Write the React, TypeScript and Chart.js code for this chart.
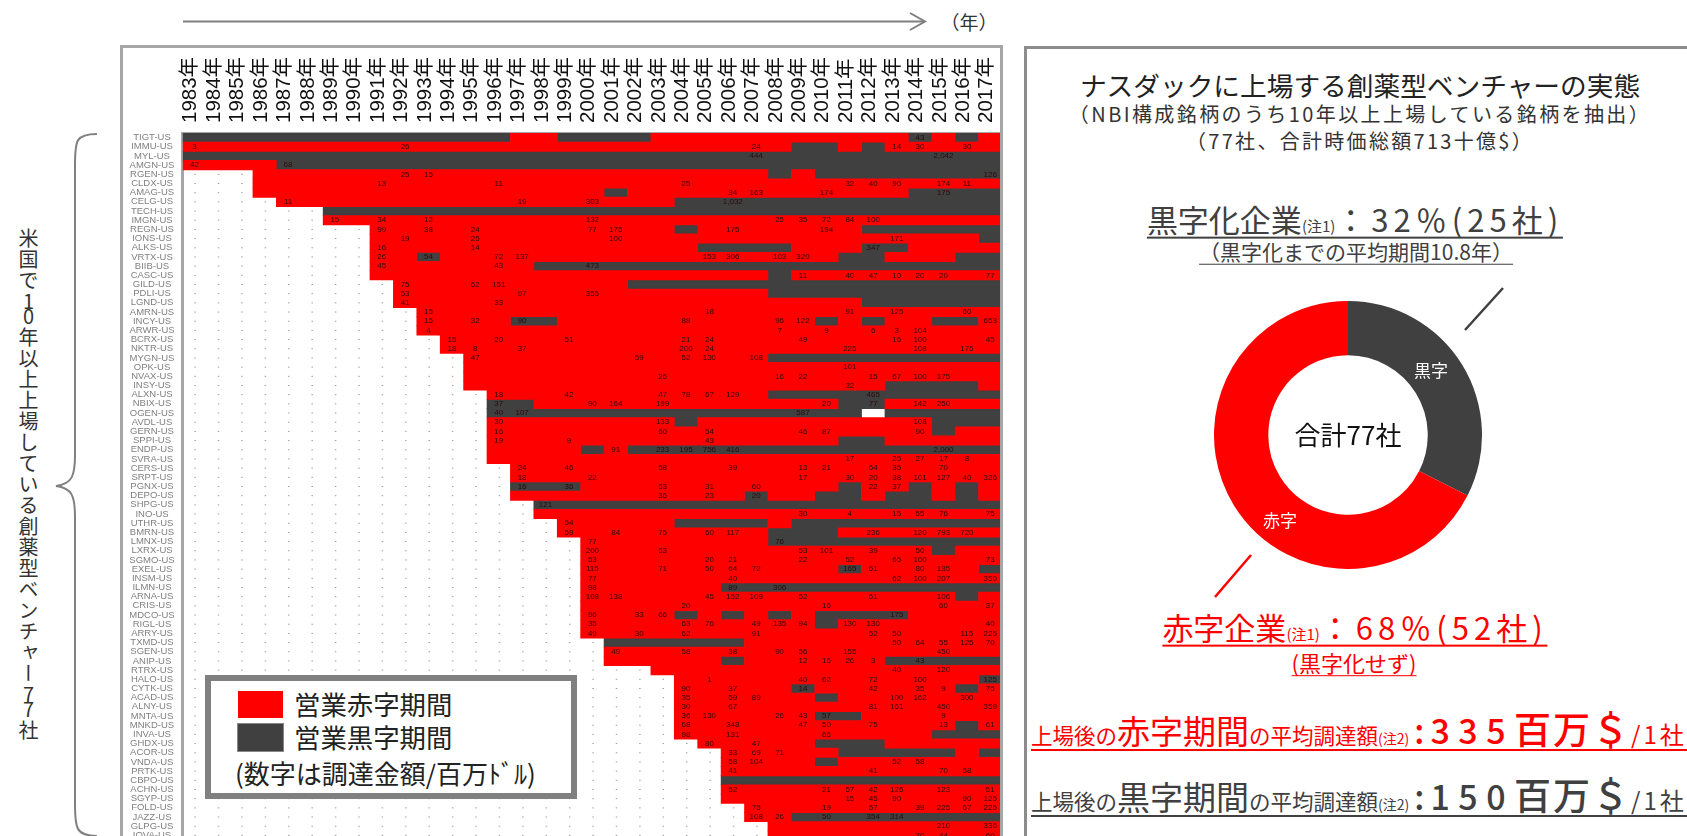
import React, { useEffect, useRef } from "react";
import { Chart, registerables } from "chart.js";

Chart.register(...registerables);

const firstYear = 1983;
const lastYear = 2017;
const years: number[] = [];
for (let y = firstYear; y <= lastYear; y++) years.push(y);

const tickers = [
  "TIGT-US","IMMU-US","MYL-US","AMGN-US","RGEN-US","CLDX-US","AMAG-US","CELG-US","TECH-US","IMGN-US","REGN-US",
  "IONS-US","ALKS-US","VRTX-US","BIIB-US","CASC-US","GILD-US","PDLI-US","LGND-US","AMRN-US","INCY-US","ARWR-US",
  "BCRX-US","NKTR-US","MYGN-US","OPK-US","NVAX-US","INSY-US","ALXN-US","NBIX-US","OGEN-US","AVDL-US","GERN-US",
  "SPPI-US","ENDP-US","SVRA-US","CERS-US","SRPT-US","PGNX-US","DEPO-US","SHPG-US","INO-US","UTHR-US","BMRN-US",
  "LMNX-US","LXRX-US","SGMO-US","EXEL-US","INSM-US","ILMN-US","ARNA-US","CRIS-US","MDCO-US","RIGL-US","ARRY-US",
  "TXMD-US","SGEN-US","ANIP-US","RTRX-US","HALO-US","CYTK-US","ACAD-US","ALNY-US","MNTA-US","MNKD-US","INVA-US",
  "GHDX-US","ACOR-US","VNDA-US","PRTK-US","CBPO-US","ACHN-US","SGYP-US","FOLD-US","JAZZ-US","GLPG-US","IOVA-US",
];

const listedFrom = [
  1983,1983,1983,1983,1986,1986,1986,1987,1989,1989,1991,
  1991,1991,1991,1991,1991,1992,1992,1992,1993,1993,1993,
  1994,1994,1995,1995,1995,1995,1996,1996,1996,1996,1996,
  1996,1996,1996,1997,1997,1997,1997,1998,1998,1999,1999,
  2000,2000,2000,2000,2000,2000,2000,2000,2000,2000,2000,
  2001,2001,2001,2003,2004,2004,2004,2004,2004,2004,2004,
  2005,2006,2006,2006,2006,2006,2006,2007,2007,2008,2008,
];

// Years in operating profit, per ticker, as [from, to]
const profitRanges: number[][][] = [
  [[1983,1996],[1999,2002],[2014,2014],[2016,2016]],[[2009,2010],[2012,2012]],[[1983,2017]],[[1987,2017]],
  [[2008,2008],[2010,2017]],[],[[2001,2001],[2014,2017]],[[2004,2017]],[[1989,2017]],[],
  [[2004,2004],[2012,2017]],[[2017,2017]],[[2005,2008],[2012,2013]],[[1993,1993],[2011,2012],[2016,2017]],[[1998,2017]],
  [[2008,2008]],[[2002,2017]],[[2008,2017]],[[2012,2017]],[],
  [[1997,1998],[2010,2010],[2012,2012],[2015,2016]],[],[],[],[[2008,2017]],
  [],[],[[2013,2016]],[[2008,2017]],[[1996,1997],[2011,2012]],
  [[1996,2011],[2013,2017]],[[2004,2004],[2015,2017]],[[2015,2015]],[[2011,2012]],[[2000,2000],[2002,2017]],
  [],[],[],[[1997,1999],[2011,2011],[2014,2014],[2016,2016]],[[2007,2007],[2010,2011],[2013,2014],[2016,2016]],
  [[1998,2017]],[],[[2004,2007],[2009,2017]],[[2008,2010]],[[2008,2017]],
  [[2015,2015]],[],[[2011,2011],[2017,2017]],[],[[2006,2017]],
  [[2016,2016]],[],[[2004,2004],[2006,2006],[2008,2008],[2010,2013]],[[2010,2010]],[],
  [[2001,2006]],[],[[2006,2006],[2013,2017]],[],[[2017,2017]],
  [[2009,2009],[2016,2016]],[[2010,2010]],[],[[2010,2011]],[[2016,2016]],
  [[2015,2017]],[[2010,2012]],[[2011,2015],[2017,2017]],[[2010,2010]],[],
  [[2006,2017]],[],[],[],[[2009,2017]],[],[],
];

// Years with no colour at all, [tickerIndex, year]
const blankCells = [[30, 2012]];

// Funding amounts (million USD), per ticker, as [year, amount]
const funding: (number | string)[][][] = [
  [[2014,43]],
  [[1983,3],[1992,26],[2007,24],[2013,14],[2014,30],[2016,30]],
  [[2007,444],[2015,"2,042"]],
  [[1983,42],[1987,68]],
  [[1992,25],[1993,15],[2017,126]],
  [[1991,13],[1996,11],[2004,25],[2011,32],[2012,40],[2013,90],[2015,174],[2016,11]],
  [[2006,34],[2007,163],[2010,174],[2015,175]],
  [[1987,11],[1997,19],[2000,303],[2006,"1,032"]],
  [],
  [[1989,15],[1991,34],[1993,12],[2000,132],[2008,25],[2009,35],[2010,72],[2011,84],[2012,100]],
  [[1991,99],[1993,38],[1995,24],[2000,77],[2001,175],[2006,175],[2010,194]],
  [[1992,19],[1995,25],[2001,100],[2013,171]],
  [[1991,16],[1995,14],[2012,347]],
  [[1991,26],[1993,54],[1996,72],[1997,137],[2005,153],[2006,306],[2008,103],[2009,320]],
  [[1991,45],[1996,43],[2000,473]],
  [[2009,11],[2011,40],[2012,47],[2013,10],[2014,20],[2015,20],[2017,77]],
  [[1992,75],[1995,62],[1996,151]],
  [[1992,53],[1997,97],[2000,355]],
  [[1992,41],[1996,33]],
  [[1993,15],[2005,18],[2011,91],[2013,125],[2016,60]],
  [[1993,15],[1995,32],[1997,90],[2004,88],[2008,96],[2009,122],[2017,653]],
  [[1993,4],[2008,7],[2010,9],[2012,6],[2013,3],[2014,104]],
  [[1994,15],[1996,20],[1999,51],[2004,21],[2005,24],[2009,49],[2013,16],[2014,100],[2017,45]],
  [[1994,18],[1995,8],[1997,37],[2004,200],[2005,24],[2011,225],[2014,108],[2016,176]],
  [[1995,47],[2002,59],[2004,52],[2005,130],[2007,108]],
  [[2011,101]],
  [[2003,26],[2008,16],[2009,22],[2012,15],[2013,67],[2014,100],[2015,175]],
  [[2011,32]],
  [[1996,18],[1999,42],[2003,47],[2004,78],[2005,67],[2006,129],[2012,465]],
  [[1996,37],[2000,90],[2001,164],[2003,199],[2010,20],[2012,77],[2014,142],[2015,250]],
  [[1996,40],[1997,107],[2009,587]],
  [[1996,30],[2003,133],[2014,108]],
  [[1996,16],[2003,60],[2005,54],[2009,46],[2010,87],[2014,90]],
  [[1996,19],[1999,9],[2005,43]],
  [[2001,91],[2003,233],[2004,195],[2005,756],[2006,416],[2015,"2,000"]],
  [[2011,17],[2013,25],[2014,27],[2015,17],[2016,8]],
  [[1997,24],[1999,46],[2003,58],[2006,39],[2009,13],[2010,21],[2012,64],[2013,35],[2015,70]],
  [[1997,18],[2000,22],[2009,17],[2011,30],[2012,20],[2013,38],[2014,101],[2015,127],[2016,40],[2017,326]],
  [[1997,16],[1999,36],[2003,53],[2005,31],[2007,60],[2012,22],[2013,37]],
  [[2003,36],[2005,23],[2007,20]],
  [[1998,121]],
  [[2009,30],[2011,4],[2013,15],[2014,55],[2015,76],[2017,75]],
  [[1999,54]],
  [[1999,59],[2001,84],[2003,75],[2005,60],[2006,117],[2012,236],[2014,120],[2015,793],[2016,720]],
  [[2000,77],[2008,76]],
  [[2000,200],[2003,53],[2009,53],[2010,101],[2012,39],[2014,50]],
  [[2000,53],[2005,20],[2006,21],[2009,22],[2011,52],[2013,65],[2014,100],[2017,73]],
  [[2000,115],[2003,71],[2005,50],[2006,64],[2007,72],[2011,165],[2012,61],[2014,80],[2015,135]],
  [[2000,77],[2006,40],[2013,62],[2014,100],[2015,207],[2017,350]],
  [[2000,98],[2006,89],[2008,306]],
  [[2000,108],[2001,138],[2005,45],[2006,152],[2007,109],[2009,52],[2012,61],[2015,106]],
  [[2004,20],[2010,16],[2015,60],[2017,37]],
  [[2000,96],[2002,33],[2003,66],[2013,175]],
  [[2000,35],[2004,63],[2005,76],[2007,49],[2008,135],[2009,94],[2011,130],[2012,130],[2017,40]],
  [[2000,49],[2002,30],[2004,62],[2007,91],[2012,52],[2013,50],[2016,115],[2017,225]],
  [[2013,50],[2014,64],[2015,55],[2016,125],[2017,70]],
  [[2001,49],[2004,58],[2006,38],[2008,90],[2009,56],[2011,155],[2015,450]],
  [[2009,12],[2010,16],[2011,26],[2012,3],[2014,43]],
  [[2013,40],[2015,120]],
  [[2005,1],[2009,40],[2010,62],[2012,72],[2014,100],[2017,125]],
  [[2004,90],[2006,37],[2009,14],[2012,42],[2014,35],[2015,9],[2017,75]],
  [[2004,35],[2006,59],[2007,89],[2013,100],[2014,162],[2016,300]],
  [[2004,30],[2006,67],[2012,81],[2013,161],[2015,450],[2017,359]],
  [[2004,36],[2005,130],[2008,26],[2009,43],[2010,57],[2015,9]],
  [[2004,68],[2006,348],[2009,47],[2010,50],[2012,75],[2015,13],[2017,61]],
  [[2004,98],[2006,131],[2010,66]],
  [[2005,80],[2007,47]],
  [[2006,33],[2007,69],[2008,71]],
  [[2006,58],[2007,104],[2013,52],[2014,58]],
  [[2006,41],[2012,41],[2015,70],[2016,58]],
  [],
  [[2006,52],[2010,21],[2011,57],[2012,42],[2013,126],[2015,123],[2017,51]],
  [[2011,15],[2012,45],[2013,90],[2016,90],[2017,125]],
  [[2007,75],[2010,19],[2012,57],[2014,39],[2015,225],[2016,67],[2017,225]],
  [[2007,108],[2008,26],[2010,50],[2012,354],[2013,314]],
  [[2015,210],[2017,336]],
  [[2014,30],[2015,44],[2017,60]],
];

const donutLabels = ["黒字", "赤字"];
const donutValues = [25, 52];

const RED = "#FF0000";
const DARK = "#404040";
const FRAME = "#A6A6A6";
const JP = "'Noto Sans CJK JP','Noto Sans',sans-serif";
const LATIN = "'Liberation Sans','Noto Sans CJK JP',sans-serif";

function cellKind(row: number, year: number): string {
  if (year < listedFrom[row]) return "none";
  if (blankCells.some(([r, y]) => r === row && y === year)) return "blank";
  return profitRanges[row].some(([a, b]) => year >= a && year <= b) ? "profit" : "loss";
}

function runsOf(kind: string) {
  const out: { x: number[]; y: string }[] = [];
  tickers.forEach((t, row) => {
    let start: number | null = null;
    for (let y = firstYear; y <= lastYear + 1; y++) {
      const hit = y <= lastYear && cellKind(row, y) === kind;
      if (hit && start === null) start = y;
      if (!hit && start !== null) {
        out.push({ x: [start - 0.5, y - 0.5], y: t });
        start = null;
      }
    }
  });
  return out;
}

const cellLabels = {
  id: "cellLabels",
  afterDatasetsDraw(chart: any) {
    const { ctx, scales } = chart;
    ctx.save();
    ctx.font = "8px 'Liberation Sans'";
    ctx.fillStyle = "#2a0a0a";
    ctx.textAlign = "center";
    ctx.textBaseline = "middle";
    funding.forEach((items, row) => {
      const py = scales.y.getPixelForValue(row);
      items.forEach(([year, amount]) => {
        ctx.fillText(String(amount), scales.x.getPixelForValue(year as number), py);
      });
    });
    ctx.restore();
  },
};

const abs = (left: number, top: number, extra: React.CSSProperties = {}): React.CSSProperties => ({
  position: "absolute",
  left,
  top,
  whiteSpace: "nowrap",
  fontFamily: JP,
  ...extra,
});

const centered = (cx: number, cy: number, extra: React.CSSProperties = {}): React.CSSProperties => ({
  ...abs(cx, cy, extra),
  transform: "translate(-50%,-50%)",
});

const zeroPadding = (s: any) => {
  s.paddingLeft = 0;
  s.paddingRight = 0;
  s.paddingTop = 0;
  s.paddingBottom = 0;
};

export default function App() {
  const matrixRef = useRef<HTMLCanvasElement>(null);
  const donutRef = useRef<HTMLCanvasElement>(null);

  useEffect(() => {
    document.body.style.margin = "0";
    const dots: { x: number; y: string }[] = [];
    tickers.forEach((t, row) => {
      years.forEach((y) => {
        if (cellKind(row, y) === "none") dots.push({ x: y, y: t });
      });
    });
    const matrix = new Chart(matrixRef.current as HTMLCanvasElement, {
      type: "bar",
      data: {
        labels: tickers,
        datasets: [
          { label: "営業赤字期間", data: runsOf("loss") as any, backgroundColor: RED, barThickness: 9.4, grouped: false },
          { label: "営業黒字期間", data: runsOf("profit") as any, backgroundColor: DARK, barThickness: 9.4, grouped: false },
          {
            type: "scatter",
            label: "未上場",
            data: dots as any,
            pointStyle: "dash",
            pointRadius: 1.5,
            borderColor: "#9E9E9E",
            borderWidth: 1,
            backgroundColor: "#9E9E9E",
          } as any,
        ],
      },
      options: {
        indexAxis: "y",
        responsive: false,
        animation: false,
        events: [],
        layout: { padding: 0, autoPadding: false },
        plugins: { legend: { display: false }, tooltip: { enabled: false } },
        scales: {
          x: {
            type: "linear",
            position: "top",
            min: firstYear - 0.5,
            max: lastYear + 0.5,
            afterBuildTicks: (s: any) => {
              s.ticks = years.map((v) => ({ value: v }));
            },
            afterFit: (s: any) => {
              s.height = 86;
              zeroPadding(s);
            },
            grid: { display: false },
            border: { display: true, color: FRAME, width: 3 },
            ticks: {
              autoSkip: false,
              minRotation: 90,
              maxRotation: 90,
              padding: 2,
              labelOffset: 21,
              color: "#111",
              font: { family: LATIN, size: 20.5 },
              callback: (v: any) => `${v}年`,
            },
          },
          y: {
            type: "category",
            afterFit: (s: any) => {
              s.width = 61.7;
              zeroPadding(s);
            },
            grid: { display: false },
            border: { display: true, color: FRAME, width: 3 },
            ticks: {
              autoSkip: false,
              padding: 0,
              crossAlign: "center",
              color: "#808080",
              font: { family: LATIN, size: 9.5 },
            },
          },
        },
      } as any,
      plugins: [cellLabels],
    });

    const donut = new Chart(donutRef.current as HTMLCanvasElement, {
      type: "doughnut",
      data: {
        labels: donutLabels,
        datasets: [{ data: donutValues, backgroundColor: [DARK, RED], borderWidth: 0 }],
      },
      options: {
        responsive: false,
        animation: false,
        events: [],
        cutout: "59.5%",
        layout: { padding: 0 },
        plugins: { legend: { display: false }, tooltip: { enabled: false } },
      } as any,
    });

    return () => {
      matrix.destroy();
      donut.destroy();
    };
  }, []);

  const ul = (color: string): React.CSSProperties => ({
    color,
    borderBottom: `2px solid ${color}`,
    lineHeight: 1.12,
    paddingBottom: 0,
  });
  const tightDigit: React.CSSProperties = { letterSpacing: -5 };
  const bigColon: React.CSSProperties = { fontSize: 34, letterSpacing: 6, fontWeight: 500, marginLeft: 5 };
  const bigNumber: React.CSSProperties = { fontSize: 34, letterSpacing: 8.5, fontWeight: 500 };
  const bigUnit: React.CSSProperties = { fontSize: 37, letterSpacing: 2, fontWeight: 500 };
  const perCompany: React.CSSProperties = { fontSize: 24, letterSpacing: 3 };

  return (
    <div style={{ position: "fixed", left: 0, top: 0, width: 1687, height: 836, overflow: "hidden", background: "#fff", filter: "blur(0.45px)" }}>
      {/* Direction arrow */}
      <svg style={{ position: "absolute", left: 0, top: 0 }} width={1687} height={836}>
        <g fill="none" stroke="#7F7F7F" strokeWidth={2}>
          <path d="M183 21.5H924" />
          <path d="M910 13L925 21.5L910 30" />
        </g>
        <path d="M97 134C76 134 75 140 75 165V455C75 476 72 484 56 486C72 488 75 496 75 517V805C75 828 76 836 97 836" fill="none" stroke="#808080" strokeWidth={2} />
        <path d="M1503 288L1465 330" stroke={DARK} strokeWidth={2.5} />
        <path d="M1251 555L1215 597" stroke={RED} strokeWidth={2.5} />
      </svg>
      <div style={centered(969, 21, { fontSize: 19, color: "#333" })}>（年）</div>

      <div
        style={abs(14, 228, {
          writingMode: "vertical-rl",
          textOrientation: "upright",
          fontSize: 20,
          letterSpacing: 1,
          color: "#333",
        })}
      >
        米国で<span style={tightDigit}>1</span>0年以上上場している創薬型ベンチャー<span style={tightDigit}>7</span>7社
      </div>

      {/* Matrix */}
      <canvas ref={matrixRef} width={881} height={793} style={{ position: "absolute", left: 121, top: 47, display: "block" }} />
      <div style={{ position: "absolute", left: 120, top: 45, width: 877, height: 900, border: `3px solid ${FRAME}`, pointerEvents: "none" }} />

      {/* Legend */}
      <div style={{ position: "absolute", left: 205, top: 675, width: 360, height: 112, border: "6px solid #808080", background: "#fff" }} />
      <div style={{ position: "absolute", left: 238, top: 691, width: 45, height: 27, background: RED }} />
      <div style={{ position: "absolute", left: 238, top: 724, width: 45, height: 27, background: DARK, outline: "1px solid #888" }} />
      <div style={abs(294, 686, { fontSize: 26.4, lineHeight: "36px", color: "#222" })}>営業赤字期間</div>
      <div style={abs(294, 719, { fontSize: 26.4, lineHeight: "36px", color: "#222" })}>営業黒字期間</div>
      <div style={abs(235, 755, { fontSize: 26, lineHeight: "36px", color: "#222" })}>(数字は調達金額/百万ﾄﾞﾙ)</div>

      {/* Right panel */}
      <div style={{ position: "absolute", left: 1024, top: 46, width: 800, height: 900, border: "3px solid #8C8C8C" }} />
      <div style={centered(1360, 84, { fontSize: 26.7, color: "#222" })}>ナスダックに上場する創薬型ベンチャーの実態</div>
      <div style={centered(1360, 113, { fontSize: 20, color: "#333", letterSpacing: 2.4 })}>（NBI構成銘柄のうち10年以上上場している銘柄を抽出）</div>
      <div style={centered(1360, 140, { fontSize: 20, color: "#333", letterSpacing: 2.3 })}>（77社、合計時価総額713十億$）</div>

      <div style={centered(1355, 220, { fontSize: 31, ...ul(DARK) })}>
        黒字化企業<span style={{ fontSize: 15 }}>(注1)</span>
        <span style={{ letterSpacing: 5 }}>：32％(25社)</span>
      </div>
      <div style={centered(1356, 252, { fontSize: 21, ...ul(DARK), borderBottomWidth: 1.5 })}>（黒字化までの平均期間10.8年）</div>

      <canvas ref={donutRef} width={268} height={268} style={{ position: "absolute", left: 1214, top: 301, display: "block" }} />
      <div style={centered(1431, 369, { fontSize: 17, color: "#fff" })}>{donutLabels[0]}</div>
      <div style={centered(1280, 519, { fontSize: 17, color: "#fff" })}>{donutLabels[1]}</div>
      <div style={centered(1348, 433, { fontSize: 26, color: "#111" })}>合計77社</div>

      <div style={centered(1355, 628, { fontSize: 31, ...ul(RED) })}>
        赤字企業<span style={{ fontSize: 15 }}>(注1)</span>
        <span style={{ letterSpacing: 5 }}>：68％(52社)</span>
      </div>
      <div style={centered(1354, 663, { fontSize: 22, ...ul(RED), borderBottomWidth: 1.5 })}>(黒字化せず)</div>

      <div style={abs(1031, 708, { fontSize: 21.5, ...ul(RED) })}>
        上場後の<span style={{ fontSize: 33 }}>赤字期間</span>の平均調達額<span style={{ fontSize: 14 }}>(注2)</span>
        <span style={bigColon}>:</span>
        <span style={bigNumber}>335</span>
        <span style={bigUnit}>百万＄</span>
        <span style={perCompany}>/1社</span>
      </div>
      <div style={abs(1031, 774, { fontSize: 21.5, ...ul(DARK) })}>
        上場後の<span style={{ fontSize: 33 }}>黒字期間</span>の平均調達額<span style={{ fontSize: 14 }}>(注2)</span>
        <span style={bigColon}>:</span>
        <span style={bigNumber}>150</span>
        <span style={bigUnit}>百万＄</span>
        <span style={perCompany}>/1社</span>
      </div>
    </div>
  );
}
